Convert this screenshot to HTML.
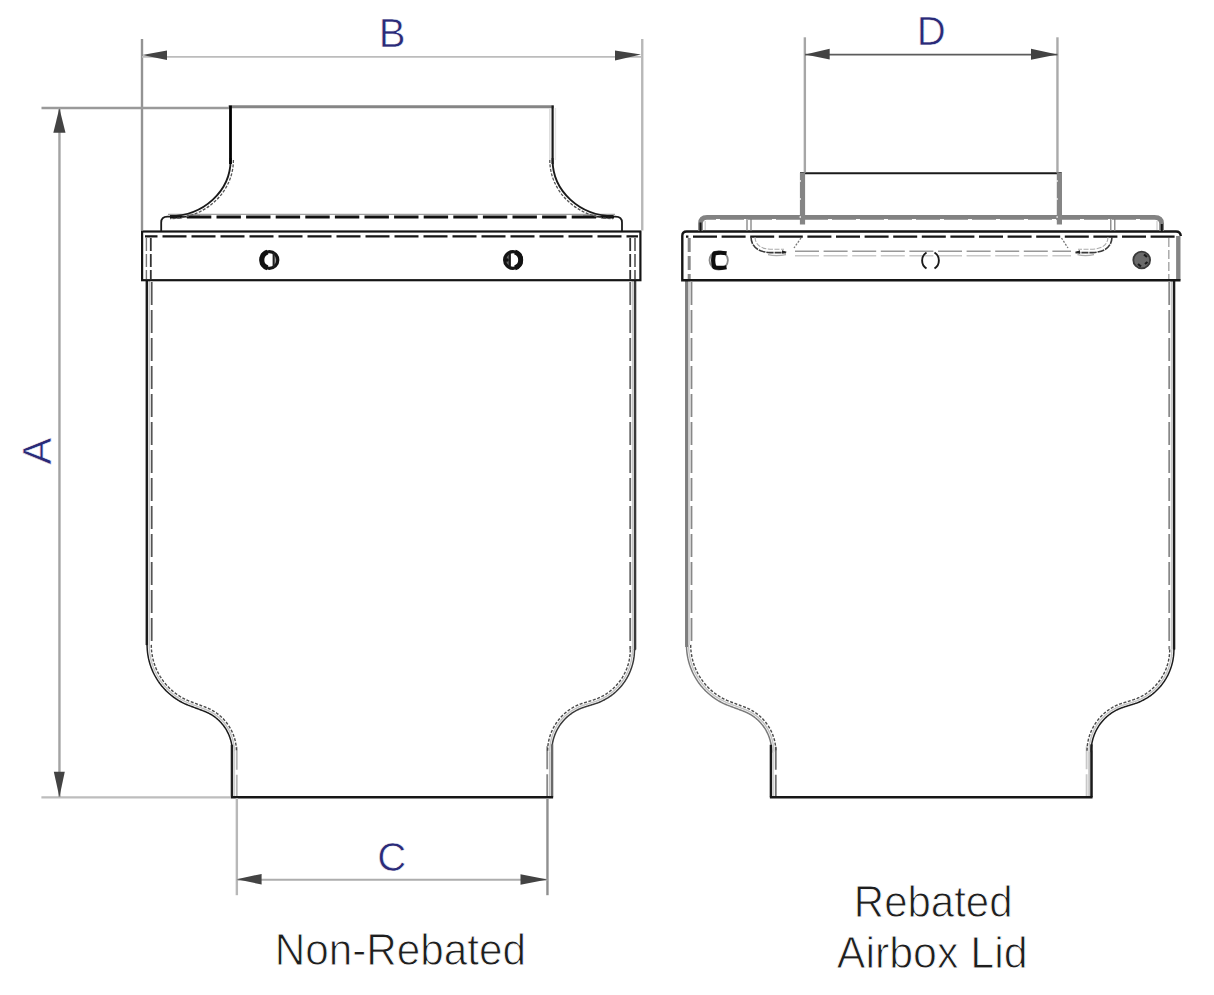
<!DOCTYPE html>
<html>
<head>
<meta charset="utf-8">
<style>
html,body{margin:0;padding:0;background:#fff;}
body{width:1214px;height:995px;overflow:hidden;}
svg{display:block;}
text{font-family:"Liberation Sans", sans-serif;}
</style>
</head>
<body>
<svg width="1214" height="995" viewBox="0 0 1214 995">
<rect x="0" y="0" width="1214" height="995" fill="#fff"/>
<!-- left drawing -->
<path d="M149.20,281 V644.90" stroke="#c8c8c8" stroke-width="1.6" fill="none"/>
<path d="M632.70,281 V649.60" stroke="#c8c8c8" stroke-width="1.6" fill="none"/>
<path d="M234.30,751.80 V796.25" stroke="#d0d0d0" stroke-width="1.6" fill="none"/>
<path d="M549.70,751.36 V796.25" stroke="#c0c0c0" stroke-width="1.6" fill="none"/>
<polyline points="149.20,644.90 149.21,646.00 149.24,647.10 149.29,648.20 149.35,649.30 149.44,650.40 149.55,651.50 149.67,652.59 149.82,653.68 149.98,654.77 150.16,655.86 150.37,656.94 150.59,658.02 150.83,659.09 151.09,660.16 151.36,661.23 151.66,662.29 151.97,663.34 152.31,664.39 152.66,665.44 153.03,666.48 153.42,667.51 153.82,668.53 154.25,669.55 154.69,670.55 155.15,671.56 155.63,672.55 156.12,673.53 156.63,674.51 157.16,675.47 157.71,676.43 158.27,677.38 158.85,678.31 159.44,679.24 160.05,680.16 160.68,681.06 161.32,681.96 161.98,682.84 162.66,683.71 163.35,684.57 164.05,685.41 164.77,686.25 165.50,687.07 166.25,687.88 167.01,688.67 167.79,689.45 168.58,690.22 169.38,690.98 170.20,691.72 171.03,692.44 171.87,693.15 172.72,693.85 173.59,694.53 174.46,695.19 175.35,695.84 176.25,696.48 177.17,697.09 178.09,697.70 179.02,698.28 179.96,698.85 180.92,699.40 181.88,699.94 182.85,700.46 183.83,700.96 184.82,701.44 185.82,701.91 186.82,702.36 187.84,702.79 188.86,703.21 189.88,703.60 190.67,703.90 191.46,704.19 192.25,704.49 193.04,704.79 193.83,705.08 194.62,705.38 195.41,705.67 196.20,705.97 196.99,706.27 197.78,706.56 198.57,706.86 199.36,707.15 200.15,707.45 200.94,707.75 201.73,708.04 202.52,708.34 203.31,708.63 204.10,708.93 204.89,709.23 205.76,709.56 206.63,709.92 207.48,710.29 208.33,710.68 209.17,711.09 210.01,711.51 210.83,711.95 211.64,712.41 212.45,712.89 213.24,713.38 214.03,713.89 214.80,714.41 215.56,714.95 216.31,715.50 217.05,716.07 217.78,716.66 218.50,717.26 219.20,717.87 219.89,718.50 220.57,719.15 221.23,719.80 221.88,720.47 222.52,721.16 223.14,721.85 223.75,722.56 224.34,723.28 224.92,724.02 225.49,724.76 226.03,725.52 226.57,726.29 227.08,727.07 227.58,727.85 228.07,728.65 228.53,729.46 228.98,730.28 229.42,731.11 229.83,731.94 230.23,732.79 230.62,733.64 230.98,734.50 231.33,735.37 231.65,736.24 231.97,737.12 232.26,738.01 232.53,738.90 232.79,739.80 233.03,740.71 233.24,741.61 233.44,742.53 233.62,743.44 233.79,744.36 233.93,745.29 234.05,746.21 234.16,747.14 234.25,748.07 234.31,749.00 234.36,749.94 234.39,750.87 234.40,751.80" stroke="#c4c4c4" stroke-width="1.4" fill="none"/>
<polyline points="632.40,649.60 632.39,650.61 632.36,651.62 632.32,652.62 632.25,653.63 632.17,654.64 632.07,655.64 631.95,656.64 631.81,657.64 631.65,658.64 631.48,659.63 631.28,660.62 631.07,661.61 630.84,662.59 630.59,663.57 630.33,664.54 630.04,665.51 629.74,666.47 629.42,667.43 629.09,668.38 628.73,669.32 628.36,670.26 627.97,671.19 627.57,672.12 627.14,673.03 626.70,673.94 626.25,674.84 625.78,675.73 625.29,676.62 624.78,677.49 624.26,678.35 623.72,679.21 623.17,680.05 622.60,680.89 622.02,681.71 621.42,682.52 620.81,683.32 620.18,684.11 619.54,684.89 618.89,685.66 618.22,686.41 617.53,687.15 616.83,687.88 616.12,688.60 615.40,689.30 614.66,689.99 613.92,690.67 613.15,691.33 612.38,691.98 611.60,692.61 610.80,693.23 609.99,693.83 609.17,694.42 608.34,695.00 607.50,695.55 606.65,696.10 605.79,696.63 604.92,697.14 604.04,697.63 603.16,698.11 602.26,698.57 601.36,699.02 600.44,699.45 599.52,699.86 598.59,700.26 597.66,700.64 596.72,701.00 595.77,701.34 594.81,701.67 593.85,701.98 593.32,702.14 592.79,702.31 592.25,702.48 591.72,702.64 591.19,702.81 590.65,702.97 590.12,703.14 589.59,703.31 589.05,703.47 588.52,703.64 587.99,703.81 587.45,703.97 586.92,704.14 586.39,704.30 585.85,704.47 585.32,704.64 584.79,704.80 584.25,704.97 583.72,705.13 582.73,705.45 581.75,705.80 580.77,706.16 579.80,706.54 578.84,706.95 577.89,707.37 576.95,707.82 576.02,708.28 575.10,708.77 574.19,709.27 573.29,709.80 572.40,710.34 571.52,710.90 570.66,711.48 569.81,712.08 568.97,712.70 568.15,713.34 567.33,713.99 566.54,714.66 565.76,715.35 564.99,716.05 564.24,716.77 563.50,717.51 562.78,718.26 562.08,719.03 561.39,719.81 560.72,720.61 560.07,721.42 559.43,722.25 558.82,723.09 558.22,723.94 557.64,724.80 557.07,725.68 556.53,726.57 556.01,727.47 555.50,728.38 555.02,729.30 554.55,730.23 554.11,731.17 553.69,732.12 553.28,733.08 552.90,734.05 552.54,735.03 552.20,736.01 551.88,737.00 551.58,738.00 551.30,739.01 551.05,740.02 550.82,741.03 550.60,742.05 550.41,743.07 550.25,744.10 550.10,745.13 549.98,746.17 549.88,747.20 549.80,748.24 549.74,749.28 549.71,750.32 549.70,751.36" stroke="#c4c4c4" stroke-width="1.4" fill="none"/>
<path d="M151.70,282 V644.90" stroke="#555" stroke-width="1.8" fill="none" stroke-dasharray="23 5"/>
<path d="M630.20,282 V649.60" stroke="#666" stroke-width="1.8" fill="none" stroke-dasharray="23 5"/>
<path d="M236.80,746.80 V796.25" stroke="#b5b5b5" stroke-width="1.8" fill="none" stroke-dasharray="23 5"/>
<path d="M547.20,746.36 V796.25" stroke="#888" stroke-width="1.8" fill="none" stroke-dasharray="23 5"/>
<polyline points="151.30,644.88 151.31,645.96 151.34,647.03 151.38,648.09 151.45,649.15 151.53,650.22 151.64,651.27 151.76,652.33 151.90,653.39 152.06,654.44 152.23,655.49 152.43,656.54 152.64,657.58 152.87,658.62 153.12,659.65 153.39,660.68 153.68,661.71 153.98,662.73 154.30,663.74 154.64,664.75 155.00,665.75 155.38,666.75 155.77,667.74 156.18,668.72 156.61,669.70 157.05,670.66 157.51,671.62 157.99,672.57 158.48,673.52 158.99,674.45 159.52,675.37 160.06,676.29 160.62,677.19 161.20,678.09 161.79,678.98 162.40,679.85 163.02,680.71 163.65,681.57 164.31,682.41 164.97,683.24 165.65,684.06 166.35,684.86 167.06,685.66 167.78,686.44 168.52,687.21 169.27,687.96 170.03,688.70 170.81,689.43 171.59,690.15 172.40,690.85 173.21,691.54 174.03,692.21 174.87,692.87 175.72,693.51 176.58,694.14 177.45,694.75 178.33,695.35 179.22,695.93 180.12,696.49 181.03,697.04 181.95,697.58 182.88,698.10 183.82,698.60 184.77,699.08 185.73,699.55 186.69,700.00 187.66,700.44 188.64,700.85 189.63,701.25 190.63,701.64 191.41,701.93 192.20,702.23 192.99,702.52 193.78,702.82 194.57,703.11 195.36,703.41 196.15,703.71 196.94,704.00 197.73,704.30 198.52,704.60 199.31,704.89 200.10,705.19 200.89,705.48 201.68,705.78 202.47,706.08 203.26,706.37 204.05,706.67 204.84,706.96 205.64,707.26 206.54,707.61 207.44,707.98 208.34,708.37 209.23,708.78 210.11,709.21 210.98,709.65 211.84,710.11 212.69,710.59 213.53,711.09 214.36,711.60 215.18,712.13 215.99,712.68 216.79,713.25 217.58,713.83 218.35,714.42 219.11,715.04 219.86,715.66 220.60,716.31 221.32,716.96 222.03,717.64 222.72,718.32 223.41,719.03 224.07,719.74 224.72,720.47 225.36,721.21 225.98,721.97 226.58,722.73 227.17,723.51 227.75,724.31 228.30,725.11 228.84,725.92 229.37,726.75 229.87,727.58 230.36,728.43 230.83,729.29 231.29,730.15 231.72,731.03 232.14,731.91 232.54,732.80 232.92,733.70 233.28,734.61 233.63,735.52 233.95,736.45 234.26,737.37 234.55,738.31 234.81,739.25 235.06,740.19 235.29,741.14 235.50,742.10 235.69,743.06 235.86,744.02 236.01,744.99 236.14,745.95 236.25,746.93 236.34,747.90 236.41,748.87 236.46,749.85 236.49,750.83 236.50,751.78" stroke="#4a4a4a" stroke-width="1.4" fill="none" stroke-dasharray="3 1.6"/>
<polyline points="630.30,649.58 630.29,650.57 630.26,651.54 630.22,652.51 630.16,653.48 630.08,654.44 629.98,655.41 629.86,656.37 629.73,657.33 629.58,658.29 629.41,659.25 629.22,660.20 629.02,661.15 628.80,662.09 628.56,663.03 628.31,663.97 628.03,664.90 627.74,665.83 627.44,666.75 627.11,667.66 626.77,668.57 626.41,669.47 626.04,670.37 625.65,671.26 625.24,672.14 624.82,673.01 624.38,673.88 623.93,674.73 623.46,675.58 622.97,676.42 622.47,677.25 621.96,678.07 621.43,678.89 620.88,679.69 620.32,680.48 619.74,681.26 619.15,682.03 618.55,682.79 617.93,683.54 617.30,684.28 616.66,685.00 616.00,685.72 615.33,686.42 614.65,687.11 613.95,687.78 613.24,688.44 612.52,689.09 611.79,689.73 611.05,690.35 610.29,690.96 609.53,691.56 608.75,692.14 607.96,692.71 607.16,693.26 606.36,693.80 605.54,694.32 604.71,694.83 603.87,695.32 603.03,695.79 602.18,696.25 601.31,696.70 600.44,697.13 599.57,697.54 598.68,697.94 597.79,698.32 596.89,698.68 595.98,699.03 595.07,699.36 594.15,699.68 593.22,699.98 592.70,700.14 592.16,700.31 591.63,700.47 591.10,700.64 590.56,700.80 590.03,700.97 589.50,701.14 588.96,701.30 588.43,701.47 587.90,701.63 587.36,701.80 586.83,701.97 586.30,702.13 585.76,702.30 585.23,702.46 584.70,702.63 584.16,702.80 583.63,702.96 583.08,703.13 582.06,703.46 581.04,703.82 580.02,704.20 579.01,704.60 578.01,705.02 577.01,705.46 576.03,705.93 575.06,706.41 574.10,706.92 573.15,707.45 572.21,707.99 571.28,708.56 570.37,709.15 569.47,709.75 568.58,710.38 567.71,711.02 566.85,711.69 566.00,712.37 565.17,713.07 564.35,713.79 563.55,714.52 562.77,715.27 562.00,716.04 561.25,716.83 560.51,717.63 559.80,718.44 559.10,719.28 558.42,720.12 557.75,720.98 557.11,721.86 556.49,722.75 555.88,723.65 555.29,724.56 554.73,725.49 554.18,726.43 553.66,727.38 553.15,728.34 552.67,729.32 552.20,730.30 551.76,731.29 551.34,732.29 550.94,733.30 550.56,734.32 550.21,735.35 549.87,736.38 549.56,737.42 549.27,738.47 549.01,739.52 548.76,740.58 548.54,741.65 548.35,742.71 548.17,743.79 548.02,744.86 547.89,745.94 547.79,747.02 547.71,748.11 547.65,749.19 547.61,750.28 547.60,751.34" stroke="#4a4a4a" stroke-width="1.4" fill="none" stroke-dasharray="3 1.6"/>
<polyline points="146.8,280 146.8,644.90 147.10,644.92 147.11,646.04 147.14,647.18 147.19,648.31 147.26,649.45 147.35,650.58 147.46,651.72 147.59,652.85 147.74,653.98 147.91,655.10 148.10,656.22 148.31,657.34 148.53,658.46 148.78,659.57 149.05,660.67 149.34,661.78 149.64,662.87 149.97,663.96 150.31,665.05 150.68,666.13 151.06,667.20 151.46,668.26 151.88,669.32 152.32,670.37 152.77,671.41 153.25,672.45 153.74,673.47 154.25,674.49 154.78,675.50 155.33,676.50 155.89,677.49 156.47,678.47 157.07,679.43 157.69,680.39 158.32,681.34 158.97,682.27 159.63,683.20 160.31,684.11 161.01,685.01 161.72,685.90 162.45,686.77 163.19,687.63 163.95,688.48 164.72,689.32 165.51,690.14 166.31,690.95 167.13,691.74 167.96,692.52 168.80,693.28 169.66,694.03 170.53,694.77 171.41,695.49 172.30,696.19 173.21,696.88 174.13,697.55 175.06,698.20 176.00,698.84 176.96,699.47 177.92,700.07 178.89,700.66 179.88,701.23 180.87,701.78 181.88,702.32 182.89,702.84 183.91,703.34 184.94,703.82 185.98,704.28 187.03,704.73 188.08,705.16 189.14,705.56 189.94,705.86 190.73,706.16 191.52,706.46 192.31,706.75 193.10,707.05 193.89,707.34 194.68,707.64 195.47,707.94 196.26,708.23 197.05,708.53 197.84,708.82 198.63,709.12 199.41,709.42 200.20,709.71 200.99,710.01 201.78,710.30 202.57,710.60 203.36,710.90 204.14,711.19 204.98,711.51 205.81,711.85 206.63,712.21 207.44,712.58 208.24,712.97 209.03,713.37 209.82,713.79 210.59,714.23 211.36,714.68 212.12,715.15 212.87,715.64 213.60,716.14 214.33,716.65 215.05,717.18 215.75,717.72 216.45,718.28 217.13,718.85 217.80,719.44 218.46,720.04 219.11,720.65 219.74,721.28 220.36,721.92 220.97,722.57 221.56,723.24 222.14,723.91 222.71,724.60 223.26,725.30 223.80,726.01 224.32,726.73 224.83,727.47 225.32,728.21 225.80,728.96 226.26,729.72 226.70,730.49 227.13,731.27 227.55,732.06 227.94,732.86 228.33,733.67 228.69,734.48 229.04,735.30 229.37,736.13 229.68,736.96 229.98,737.80 230.26,738.65 230.52,739.50 230.76,740.36 230.99,741.22 231.20,742.09 231.39,742.96 231.56,743.83 231.72,744.71 231.85,745.59 231.97,746.47 232.07,747.36 232.15,748.24 232.22,749.13 232.26,750.02 232.29,750.91 232.30,751.82 231.9,751.80 231.9,797.25" stroke="#1c1c1c" stroke-width="1.5" fill="none"/>
<path d="M146.8,280 V644.90" stroke="#1c1c1c" stroke-width="2.4" fill="none"/>
<path d="M231.9,744.80 V797.25" stroke="#222" stroke-width="2.4" fill="none"/>
<polyline points="635.1,280 635.1,649.60 634.50,649.62 634.49,650.65 634.46,651.69 634.41,652.74 634.35,653.79 634.26,654.83 634.15,655.87 634.03,656.91 633.88,657.95 633.72,658.98 633.54,660.02 633.34,661.04 633.12,662.07 632.88,663.09 632.62,664.10 632.35,665.11 632.05,666.12 631.74,667.12 631.41,668.11 631.06,669.10 630.69,670.08 630.31,671.05 629.90,672.02 629.48,672.98 629.04,673.93 628.59,674.87 628.11,675.81 627.62,676.73 627.11,677.65 626.59,678.56 626.05,679.45 625.49,680.34 624.92,681.22 624.33,682.08 623.72,682.94 623.10,683.78 622.47,684.61 621.82,685.43 621.15,686.24 620.47,687.04 619.77,687.82 619.06,688.59 618.34,689.35 617.60,690.09 616.85,690.82 616.09,691.54 615.31,692.24 614.52,692.93 613.71,693.60 612.90,694.26 612.07,694.90 611.23,695.53 610.38,696.14 609.52,696.73 608.65,697.31 607.77,697.88 606.87,698.43 605.97,698.96 605.06,699.47 604.14,699.97 603.21,700.45 602.27,700.91 601.32,701.36 600.36,701.79 599.40,702.20 598.43,702.59 597.45,702.97 596.47,703.32 595.48,703.66 594.49,703.98 593.95,704.15 593.41,704.32 592.88,704.48 592.35,704.65 591.81,704.81 591.28,704.98 590.75,705.15 590.21,705.31 589.68,705.48 589.15,705.64 588.61,705.81 588.08,705.98 587.55,706.14 587.01,706.31 586.48,706.47 585.95,706.64 585.41,706.81 584.88,706.97 584.36,707.13 583.40,707.45 582.46,707.77 581.52,708.12 580.60,708.49 579.68,708.87 578.77,709.28 577.87,709.71 576.98,710.15 576.10,710.61 575.23,711.10 574.36,711.60 573.51,712.12 572.68,712.66 571.85,713.21 571.04,713.79 570.23,714.38 569.45,714.99 568.67,715.61 567.91,716.25 567.16,716.91 566.43,717.58 565.71,718.27 565.00,718.98 564.31,719.70 563.64,720.43 562.98,721.18 562.34,721.94 561.72,722.72 561.11,723.51 560.52,724.31 559.95,725.13 559.39,725.95 558.85,726.79 558.34,727.64 557.83,728.50 557.35,729.38 556.89,730.26 556.44,731.15 556.02,732.05 555.61,732.96 555.23,733.88 554.86,734.80 554.52,735.74 554.19,736.68 553.88,737.63 553.60,738.58 553.33,739.54 553.09,740.51 552.87,741.48 552.66,742.45 552.48,743.43 552.32,744.42 552.19,745.40 552.07,746.39 551.97,747.38 551.90,748.38 551.84,749.37 551.81,750.37 551.80,751.39 552.1,751.36 552.1,797.25" stroke="#3a3a3a" stroke-width="1.5" fill="none"/>
<path d="M635.1,280 V649.60" stroke="#3a3a3a" stroke-width="2.4" fill="none"/>
<path d="M552.1,744.36 V797.25" stroke="#6a6a6a" stroke-width="2.4" fill="none"/>
<path d="M230.9,797.25 H553.1" stroke="#171717" stroke-width="2.4" fill="none"/>
<rect x="142.1" y="231.5" width="498.3" height="48.7" stroke="#151515" stroke-width="2.2" fill="none"/>
<line x1="145" y1="236.4" x2="638" y2="236.4" stroke="#151515" stroke-width="2.2" stroke-dasharray="24 5" stroke-dashoffset="-17.5"/>
<line x1="150.8" y1="238" x2="150.8" y2="279" stroke="#333" stroke-width="1.8" stroke-dasharray="13 3"/>
<line x1="146.4" y1="238" x2="146.4" y2="279" stroke="#777" stroke-width="1.4" stroke-dasharray="13 3"/>
<line x1="630.2" y1="238" x2="630.2" y2="279" stroke="#333" stroke-width="1.8" stroke-dasharray="13 3"/>
<line x1="635.0" y1="238" x2="635.0" y2="279" stroke="#555" stroke-width="1.6" stroke-dasharray="13 3"/>
<path d="M161.2,231 V222.5 Q161.2,216.6 167.5,216.6 H200 M583,216.6 H615.5 Q622,216.6 622,222.5 V231" stroke="#1a1a1a" stroke-width="1.8" fill="none"/>
<line x1="168" y1="214.4" x2="615" y2="214.4" stroke="#a0a0a0" stroke-width="1.4"/>
<line x1="170" y1="217.0" x2="614" y2="217.0" stroke="#111" stroke-width="3" stroke-dasharray="24.4 5.2" stroke-dashoffset="12.7"/>
<line x1="228.5" y1="106.8" x2="553.8" y2="106.8" stroke="#858585" stroke-width="3"/>
<path d="M233.4,160 A63.4,58.4 0 0 1 170,218.6" stroke="#555" stroke-width="1.3" fill="none" stroke-dasharray="3 1.5"/>
<path d="M230.6,158 V160 A60.6,56 0 0 1 170,216" stroke="#1a1a1a" stroke-width="1.9" fill="none"/>
<line x1="230.5" y1="105.5" x2="230.5" y2="164" stroke="#000" stroke-width="2.8"/>
<path d="M549.8,160 A63.4,58.4 0 0 0 613.2,218.6" stroke="#555" stroke-width="1.3" fill="none" stroke-dasharray="3 1.5"/>
<path d="M552.6,158 V160 A60.6,56 0 0 0 613.2,216" stroke="#1a1a1a" stroke-width="1.9" fill="none"/>
<line x1="552.6" y1="105.5" x2="552.6" y2="164" stroke="#1a1a1a" stroke-width="2.2"/>
<line x1="549.8" y1="108" x2="549.8" y2="160" stroke="#ddd" stroke-width="1.5"/>
<line x1="555.4" y1="108" x2="555.4" y2="160" stroke="#e4e4e4" stroke-width="1.5"/>
<path d="M273.5,252.3 A8.5,8.5 0 0 1 273.5,267.7 Z" fill="#999"/>
<circle cx="269.4" cy="260" r="8.4" stroke="#151515" stroke-width="3.2" fill="none"/>
<path d="M267.5,252.2 A8.2,8.2 0 0 0 267.5,267.8" stroke="#111" stroke-width="5" fill="none"/>
<line x1="273.6" y1="252.5" x2="273.6" y2="267.5" stroke="#222" stroke-width="2"/>
<path d="M509.6,252.1 A8.6,8.6 0 0 0 509.6,267.9 Z" fill="#666"/>
<circle cx="513" cy="260" r="8.4" stroke="#151515" stroke-width="3.2" fill="none"/>
<path d="M515,252.2 A8.2,8.2 0 0 1 515,267.8" stroke="#111" stroke-width="5" fill="none"/>
<line x1="509.8" y1="252.5" x2="509.8" y2="267.5" stroke="#1a1a1a" stroke-width="2.2"/>
<circle cx="507" cy="260" r="1.8" fill="#111"/>
<!-- right drawing -->
<path d="M689.00,281 V644.90" stroke="#c8c8c8" stroke-width="1.6" fill="none"/>
<path d="M1171.70,281 V649.60" stroke="#c8c8c8" stroke-width="1.6" fill="none"/>
<path d="M773.30,751.80 V796.25" stroke="#d0d0d0" stroke-width="1.6" fill="none"/>
<path d="M1089.10,751.36 V796.25" stroke="#c0c0c0" stroke-width="1.6" fill="none"/>
<polyline points="688.60,644.90 688.61,646.00 688.64,647.10 688.69,648.20 688.75,649.30 688.84,650.40 688.95,651.50 689.07,652.59 689.22,653.68 689.38,654.77 689.56,655.86 689.77,656.94 689.99,658.02 690.23,659.09 690.49,660.16 690.76,661.23 691.06,662.29 691.37,663.34 691.71,664.39 692.06,665.44 692.43,666.48 692.82,667.51 693.22,668.53 693.65,669.55 694.09,670.55 694.55,671.56 695.03,672.55 695.52,673.53 696.03,674.51 696.56,675.47 697.11,676.43 697.67,677.38 698.25,678.31 698.84,679.24 699.45,680.16 700.08,681.06 700.72,681.96 701.38,682.84 702.06,683.71 702.75,684.57 703.45,685.41 704.17,686.25 704.90,687.07 705.65,687.88 706.41,688.67 707.19,689.45 707.98,690.22 708.78,690.98 709.60,691.72 710.43,692.44 711.27,693.15 712.12,693.85 712.99,694.53 713.86,695.19 714.75,695.84 715.65,696.48 716.57,697.09 717.49,697.70 718.42,698.28 719.36,698.85 720.32,699.40 721.28,699.94 722.25,700.46 723.23,700.96 724.22,701.44 725.22,701.91 726.22,702.36 727.24,702.79 728.26,703.21 729.28,703.60 730.07,703.90 730.86,704.19 731.65,704.49 732.44,704.79 733.23,705.08 734.02,705.38 734.81,705.67 735.60,705.97 736.39,706.27 737.18,706.56 737.97,706.86 738.76,707.15 739.55,707.45 740.34,707.75 741.13,708.04 741.92,708.34 742.71,708.63 743.50,708.93 744.29,709.23 745.16,709.56 746.03,709.92 746.88,710.29 747.73,710.68 748.57,711.09 749.41,711.51 750.23,711.95 751.04,712.41 751.85,712.89 752.64,713.38 753.43,713.89 754.20,714.41 754.96,714.95 755.71,715.50 756.45,716.07 757.18,716.66 757.90,717.26 758.60,717.87 759.29,718.50 759.97,719.15 760.63,719.80 761.28,720.47 761.92,721.16 762.54,721.85 763.15,722.56 763.74,723.28 764.32,724.02 764.89,724.76 765.43,725.52 765.97,726.29 766.48,727.07 766.98,727.85 767.47,728.65 767.93,729.46 768.38,730.28 768.82,731.11 769.23,731.94 769.63,732.79 770.02,733.64 770.38,734.50 770.73,735.37 771.05,736.24 771.37,737.12 771.66,738.01 771.93,738.90 772.19,739.80 772.43,740.71 772.64,741.61 772.84,742.53 773.02,743.44 773.19,744.36 773.33,745.29 773.45,746.21 773.56,747.14 773.65,748.07 773.71,749.00 773.76,749.94 773.79,750.87 773.80,751.80" stroke="#c4c4c4" stroke-width="1.4" fill="none"/>
<polyline points="1171.80,649.60 1171.79,650.61 1171.76,651.62 1171.72,652.62 1171.65,653.63 1171.57,654.64 1171.47,655.64 1171.35,656.64 1171.21,657.64 1171.05,658.64 1170.88,659.63 1170.68,660.62 1170.47,661.61 1170.24,662.59 1169.99,663.57 1169.73,664.54 1169.44,665.51 1169.14,666.47 1168.82,667.43 1168.49,668.38 1168.13,669.32 1167.76,670.26 1167.37,671.19 1166.97,672.12 1166.54,673.03 1166.10,673.94 1165.65,674.84 1165.18,675.73 1164.69,676.62 1164.18,677.49 1163.66,678.35 1163.12,679.21 1162.57,680.05 1162.00,680.89 1161.42,681.71 1160.82,682.52 1160.21,683.32 1159.58,684.11 1158.94,684.89 1158.29,685.66 1157.62,686.41 1156.93,687.15 1156.23,687.88 1155.52,688.60 1154.80,689.30 1154.06,689.99 1153.32,690.67 1152.55,691.33 1151.78,691.98 1151.00,692.61 1150.20,693.23 1149.39,693.83 1148.57,694.42 1147.74,695.00 1146.90,695.55 1146.05,696.10 1145.19,696.63 1144.32,697.14 1143.44,697.63 1142.56,698.11 1141.66,698.57 1140.76,699.02 1139.84,699.45 1138.92,699.86 1137.99,700.26 1137.06,700.64 1136.12,701.00 1135.17,701.34 1134.21,701.67 1133.25,701.98 1132.72,702.14 1132.19,702.31 1131.65,702.48 1131.12,702.64 1130.59,702.81 1130.05,702.97 1129.52,703.14 1128.99,703.31 1128.45,703.47 1127.92,703.64 1127.39,703.81 1126.85,703.97 1126.32,704.14 1125.79,704.30 1125.25,704.47 1124.72,704.64 1124.19,704.80 1123.65,704.97 1123.12,705.13 1122.13,705.45 1121.15,705.80 1120.17,706.16 1119.20,706.54 1118.24,706.95 1117.29,707.37 1116.35,707.82 1115.42,708.28 1114.50,708.77 1113.59,709.27 1112.69,709.80 1111.80,710.34 1110.92,710.90 1110.06,711.48 1109.21,712.08 1108.37,712.70 1107.55,713.34 1106.73,713.99 1105.94,714.66 1105.16,715.35 1104.39,716.05 1103.64,716.77 1102.90,717.51 1102.18,718.26 1101.48,719.03 1100.79,719.81 1100.12,720.61 1099.47,721.42 1098.83,722.25 1098.22,723.09 1097.62,723.94 1097.04,724.80 1096.47,725.68 1095.93,726.57 1095.41,727.47 1094.90,728.38 1094.42,729.30 1093.95,730.23 1093.51,731.17 1093.09,732.12 1092.68,733.08 1092.30,734.05 1091.94,735.03 1091.60,736.01 1091.28,737.00 1090.98,738.00 1090.70,739.01 1090.45,740.02 1090.22,741.03 1090.00,742.05 1089.81,743.07 1089.65,744.10 1089.50,745.13 1089.38,746.17 1089.28,747.20 1089.20,748.24 1089.14,749.28 1089.11,750.32 1089.10,751.36" stroke="#c4c4c4" stroke-width="1.4" fill="none"/>
<path d="M691.50,282 V644.90" stroke="#888" stroke-width="1.8" fill="none" stroke-dasharray="23 5"/>
<path d="M1169.20,282 V649.60" stroke="#888" stroke-width="1.8" fill="none" stroke-dasharray="23 5"/>
<path d="M775.80,746.80 V796.25" stroke="#6f6f6f" stroke-width="1.8" fill="none" stroke-dasharray="23 5"/>
<path d="M1086.60,746.36 V796.25" stroke="#c8c8c8" stroke-width="1.8" fill="none" stroke-dasharray="23 5"/>
<polyline points="690.70,644.88 690.71,645.96 690.74,647.03 690.78,648.09 690.85,649.15 690.93,650.22 691.04,651.27 691.16,652.33 691.30,653.39 691.46,654.44 691.63,655.49 691.83,656.54 692.04,657.58 692.27,658.62 692.52,659.65 692.79,660.68 693.08,661.71 693.38,662.73 693.70,663.74 694.04,664.75 694.40,665.75 694.78,666.75 695.17,667.74 695.58,668.72 696.01,669.70 696.45,670.66 696.91,671.62 697.39,672.57 697.88,673.52 698.39,674.45 698.92,675.37 699.46,676.29 700.02,677.19 700.60,678.09 701.19,678.98 701.80,679.85 702.42,680.71 703.05,681.57 703.71,682.41 704.37,683.24 705.05,684.06 705.75,684.86 706.46,685.66 707.18,686.44 707.92,687.21 708.67,687.96 709.43,688.70 710.21,689.43 710.99,690.15 711.80,690.85 712.61,691.54 713.43,692.21 714.27,692.87 715.12,693.51 715.98,694.14 716.85,694.75 717.73,695.35 718.62,695.93 719.52,696.49 720.43,697.04 721.35,697.58 722.28,698.10 723.22,698.60 724.17,699.08 725.13,699.55 726.09,700.00 727.06,700.44 728.04,700.85 729.03,701.25 730.03,701.64 730.81,701.93 731.60,702.23 732.39,702.52 733.18,702.82 733.97,703.11 734.76,703.41 735.55,703.71 736.34,704.00 737.13,704.30 737.92,704.60 738.71,704.89 739.50,705.19 740.29,705.48 741.08,705.78 741.87,706.08 742.66,706.37 743.45,706.67 744.24,706.96 745.04,707.26 745.94,707.61 746.84,707.98 747.74,708.37 748.63,708.78 749.51,709.21 750.38,709.65 751.24,710.11 752.09,710.59 752.93,711.09 753.76,711.60 754.58,712.13 755.39,712.68 756.19,713.25 756.98,713.83 757.75,714.42 758.51,715.04 759.26,715.66 760.00,716.31 760.72,716.96 761.43,717.64 762.12,718.32 762.81,719.03 763.47,719.74 764.12,720.47 764.76,721.21 765.38,721.97 765.98,722.73 766.57,723.51 767.15,724.31 767.70,725.11 768.24,725.92 768.77,726.75 769.27,727.58 769.76,728.43 770.23,729.29 770.69,730.15 771.12,731.03 771.54,731.91 771.94,732.80 772.32,733.70 772.68,734.61 773.03,735.52 773.35,736.45 773.66,737.37 773.95,738.31 774.21,739.25 774.46,740.19 774.69,741.14 774.90,742.10 775.09,743.06 775.26,744.02 775.41,744.99 775.54,745.95 775.65,746.93 775.74,747.90 775.81,748.87 775.86,749.85 775.89,750.83 775.90,751.78" stroke="#4a4a4a" stroke-width="1.4" fill="none" stroke-dasharray="3 1.6"/>
<polyline points="1169.70,649.58 1169.69,650.57 1169.66,651.54 1169.62,652.51 1169.56,653.48 1169.48,654.44 1169.38,655.41 1169.26,656.37 1169.13,657.33 1168.98,658.29 1168.81,659.25 1168.62,660.20 1168.42,661.15 1168.20,662.09 1167.96,663.03 1167.71,663.97 1167.43,664.90 1167.14,665.83 1166.84,666.75 1166.51,667.66 1166.17,668.57 1165.81,669.47 1165.44,670.37 1165.05,671.26 1164.64,672.14 1164.22,673.01 1163.78,673.88 1163.33,674.73 1162.86,675.58 1162.37,676.42 1161.87,677.25 1161.36,678.07 1160.83,678.89 1160.28,679.69 1159.72,680.48 1159.14,681.26 1158.55,682.03 1157.95,682.79 1157.33,683.54 1156.70,684.28 1156.06,685.00 1155.40,685.72 1154.73,686.42 1154.05,687.11 1153.35,687.78 1152.64,688.44 1151.92,689.09 1151.19,689.73 1150.45,690.35 1149.69,690.96 1148.93,691.56 1148.15,692.14 1147.36,692.71 1146.56,693.26 1145.76,693.80 1144.94,694.32 1144.11,694.83 1143.27,695.32 1142.43,695.79 1141.58,696.25 1140.71,696.70 1139.84,697.13 1138.97,697.54 1138.08,697.94 1137.19,698.32 1136.29,698.68 1135.38,699.03 1134.47,699.36 1133.55,699.68 1132.62,699.98 1132.10,700.14 1131.56,700.31 1131.03,700.47 1130.50,700.64 1129.96,700.80 1129.43,700.97 1128.90,701.14 1128.36,701.30 1127.83,701.47 1127.30,701.63 1126.76,701.80 1126.23,701.97 1125.70,702.13 1125.16,702.30 1124.63,702.46 1124.10,702.63 1123.56,702.80 1123.03,702.96 1122.48,703.13 1121.46,703.46 1120.44,703.82 1119.42,704.20 1118.41,704.60 1117.41,705.02 1116.41,705.46 1115.43,705.93 1114.46,706.41 1113.50,706.92 1112.55,707.45 1111.61,707.99 1110.68,708.56 1109.77,709.15 1108.87,709.75 1107.98,710.38 1107.11,711.02 1106.25,711.69 1105.40,712.37 1104.57,713.07 1103.75,713.79 1102.95,714.52 1102.17,715.27 1101.40,716.04 1100.65,716.83 1099.91,717.63 1099.20,718.44 1098.50,719.28 1097.82,720.12 1097.15,720.98 1096.51,721.86 1095.89,722.75 1095.28,723.65 1094.69,724.56 1094.13,725.49 1093.58,726.43 1093.06,727.38 1092.55,728.34 1092.07,729.32 1091.60,730.30 1091.16,731.29 1090.74,732.29 1090.34,733.30 1089.96,734.32 1089.61,735.35 1089.27,736.38 1088.96,737.42 1088.67,738.47 1088.41,739.52 1088.16,740.58 1087.94,741.65 1087.75,742.71 1087.57,743.79 1087.42,744.86 1087.29,745.94 1087.19,747.02 1087.11,748.11 1087.05,749.19 1087.01,750.28 1087.00,751.34" stroke="#4a4a4a" stroke-width="1.4" fill="none" stroke-dasharray="3 1.6"/>
<polyline points="686.6,280 686.6,644.90 686.50,644.92 686.51,646.04 686.54,647.18 686.59,648.31 686.66,649.45 686.75,650.58 686.86,651.72 686.99,652.85 687.14,653.98 687.31,655.10 687.50,656.22 687.71,657.34 687.93,658.46 688.18,659.57 688.45,660.67 688.74,661.78 689.04,662.87 689.37,663.96 689.71,665.05 690.08,666.13 690.46,667.20 690.86,668.26 691.28,669.32 691.72,670.37 692.17,671.41 692.65,672.45 693.14,673.47 693.65,674.49 694.18,675.50 694.73,676.50 695.29,677.49 695.87,678.47 696.47,679.43 697.09,680.39 697.72,681.34 698.37,682.27 699.03,683.20 699.71,684.11 700.41,685.01 701.12,685.90 701.85,686.77 702.59,687.63 703.35,688.48 704.12,689.32 704.91,690.14 705.71,690.95 706.53,691.74 707.36,692.52 708.20,693.28 709.06,694.03 709.93,694.77 710.81,695.49 711.70,696.19 712.61,696.88 713.53,697.55 714.46,698.20 715.40,698.84 716.36,699.47 717.32,700.07 718.29,700.66 719.28,701.23 720.27,701.78 721.28,702.32 722.29,702.84 723.31,703.34 724.34,703.82 725.38,704.28 726.43,704.73 727.48,705.16 728.54,705.56 729.34,705.86 730.13,706.16 730.92,706.46 731.71,706.75 732.50,707.05 733.29,707.34 734.08,707.64 734.87,707.94 735.66,708.23 736.45,708.53 737.24,708.82 738.03,709.12 738.81,709.42 739.60,709.71 740.39,710.01 741.18,710.30 741.97,710.60 742.76,710.90 743.54,711.19 744.38,711.51 745.21,711.85 746.03,712.21 746.84,712.58 747.64,712.97 748.43,713.37 749.22,713.79 749.99,714.23 750.76,714.68 751.52,715.15 752.27,715.64 753.00,716.14 753.73,716.65 754.45,717.18 755.15,717.72 755.85,718.28 756.53,718.85 757.20,719.44 757.86,720.04 758.51,720.65 759.14,721.28 759.76,721.92 760.37,722.57 760.96,723.24 761.54,723.91 762.11,724.60 762.66,725.30 763.20,726.01 763.72,726.73 764.23,727.47 764.72,728.21 765.20,728.96 765.66,729.72 766.10,730.49 766.53,731.27 766.95,732.06 767.34,732.86 767.73,733.67 768.09,734.48 768.44,735.30 768.77,736.13 769.08,736.96 769.38,737.80 769.66,738.65 769.92,739.50 770.16,740.36 770.39,741.22 770.60,742.09 770.79,742.96 770.96,743.83 771.12,744.71 771.25,745.59 771.37,746.47 771.47,747.36 771.55,748.24 771.62,749.13 771.66,750.02 771.69,750.91 771.70,751.82 770.9,751.80 770.9,797.25" stroke="#7a7a7a" stroke-width="1.5" fill="none"/>
<path d="M686.6,280 V644.90" stroke="#7a7a7a" stroke-width="2.4" fill="none"/>
<path d="M770.9,744.80 V797.25" stroke="#1a1a1a" stroke-width="2.4" fill="none"/>
<polyline points="1174.1,280 1174.1,649.60 1173.90,649.62 1173.89,650.65 1173.86,651.69 1173.81,652.74 1173.75,653.79 1173.66,654.83 1173.55,655.87 1173.43,656.91 1173.28,657.95 1173.12,658.98 1172.94,660.02 1172.74,661.04 1172.52,662.07 1172.28,663.09 1172.02,664.10 1171.75,665.11 1171.45,666.12 1171.14,667.12 1170.81,668.11 1170.46,669.10 1170.09,670.08 1169.71,671.05 1169.30,672.02 1168.88,672.98 1168.44,673.93 1167.99,674.87 1167.51,675.81 1167.02,676.73 1166.51,677.65 1165.99,678.56 1165.45,679.45 1164.89,680.34 1164.32,681.22 1163.73,682.08 1163.12,682.94 1162.50,683.78 1161.87,684.61 1161.22,685.43 1160.55,686.24 1159.87,687.04 1159.17,687.82 1158.46,688.59 1157.74,689.35 1157.00,690.09 1156.25,690.82 1155.49,691.54 1154.71,692.24 1153.92,692.93 1153.11,693.60 1152.30,694.26 1151.47,694.90 1150.63,695.53 1149.78,696.14 1148.92,696.73 1148.05,697.31 1147.17,697.88 1146.27,698.43 1145.37,698.96 1144.46,699.47 1143.54,699.97 1142.61,700.45 1141.67,700.91 1140.72,701.36 1139.76,701.79 1138.80,702.20 1137.83,702.59 1136.85,702.97 1135.87,703.32 1134.88,703.66 1133.89,703.98 1133.35,704.15 1132.81,704.32 1132.28,704.48 1131.75,704.65 1131.21,704.81 1130.68,704.98 1130.15,705.15 1129.61,705.31 1129.08,705.48 1128.55,705.64 1128.01,705.81 1127.48,705.98 1126.95,706.14 1126.41,706.31 1125.88,706.47 1125.35,706.64 1124.81,706.81 1124.28,706.97 1123.76,707.13 1122.80,707.45 1121.86,707.77 1120.92,708.12 1120.00,708.49 1119.08,708.87 1118.17,709.28 1117.27,709.71 1116.38,710.15 1115.50,710.61 1114.63,711.10 1113.76,711.60 1112.91,712.12 1112.08,712.66 1111.25,713.21 1110.44,713.79 1109.63,714.38 1108.85,714.99 1108.07,715.61 1107.31,716.25 1106.56,716.91 1105.83,717.58 1105.11,718.27 1104.40,718.98 1103.71,719.70 1103.04,720.43 1102.38,721.18 1101.74,721.94 1101.12,722.72 1100.51,723.51 1099.92,724.31 1099.35,725.13 1098.79,725.95 1098.25,726.79 1097.74,727.64 1097.23,728.50 1096.75,729.38 1096.29,730.26 1095.84,731.15 1095.42,732.05 1095.01,732.96 1094.63,733.88 1094.26,734.80 1093.92,735.74 1093.59,736.68 1093.28,737.63 1093.00,738.58 1092.73,739.54 1092.49,740.51 1092.27,741.48 1092.06,742.45 1091.88,743.43 1091.72,744.42 1091.59,745.40 1091.47,746.39 1091.37,747.38 1091.30,748.38 1091.24,749.37 1091.21,750.37 1091.20,751.39 1091.5,751.36 1091.5,797.25" stroke="#1c1c1c" stroke-width="1.5" fill="none"/>
<path d="M1174.1,280 V649.60" stroke="#1c1c1c" stroke-width="2.4" fill="none"/>
<path d="M1091.5,744.36 V797.25" stroke="#1a1a1a" stroke-width="2.4" fill="none"/>
<path d="M769.9,797.25 H1092.5" stroke="#171717" stroke-width="2.4" fill="none"/>
<path d="M686.6,281 V647" stroke="#7e7e7e" stroke-width="3" fill="none"/>
<path d="M1178.3,280.2 V236" stroke="#858585" stroke-width="4.4" fill="none"/>
<path d="M1180.5,280.2 H682.3 V235.8 Q682.3,231.5 686.6,231.5 H1176 Q1180.5,231.5 1180.8,236" stroke="#151515" stroke-width="2.4" fill="none"/>
<line x1="686" y1="236.6" x2="1177" y2="236.6" stroke="#151515" stroke-width="2.2" stroke-dasharray="24 4.6" stroke-dashoffset="-7"/>
<line x1="689.2" y1="238" x2="689.2" y2="279" stroke="#888" stroke-width="3" stroke-dasharray="14 4"/>
<line x1="1168.8" y1="238" x2="1168.8" y2="279" stroke="#aaa" stroke-width="1.5" stroke-dasharray="9 3"/>
<path d="M700.5,231 V223.5 Q700.5,217.3 707,217.3 H1154.5 Q1161.6,217.3 1161.6,223.5 V231" stroke="#828282" stroke-width="4.8" fill="none"/>
<path d="M700.5,231.5 V222.5 M1161.8,231.5 V224" stroke="#151515" stroke-width="2" fill="none"/>
<path d="M705.2,230 V221 M1157,230 V221" stroke="#ccc" stroke-width="1.2" fill="none"/>
<line x1="708" y1="219.6" x2="1153" y2="219.6" stroke="#fff" stroke-width="1.4" stroke-dasharray="4 24" stroke-dashoffset="-8"/>
<path d="M747,219 V231 M751,219 V231 M1110.8,219 V231 M1114.8,219 V231" stroke="#777" stroke-width="1.2"/>
<line x1="800" y1="173.2" x2="1061.8" y2="173.2" stroke="#1a1a1a" stroke-width="2"/>
<path d="M802.5,173 V224.6 M1059.4,173 V224.6" stroke="#858585" stroke-width="5.2" fill="none"/>
<path d="M800.2,180 V222 M1057.1,180 V222" stroke="#fff" stroke-width="1" stroke-dasharray="2 16" fill="none"/>
<path d="M751,237 Q751.5,251.5 770,252.6 H786" stroke="#3a3a3a" stroke-width="1.6" fill="none" stroke-dasharray="7 1"/>
<path d="M755,237 Q755.5,248.4 770,249.2 H784" stroke="#aaa" stroke-width="1.1" fill="none" stroke-dasharray="5 1.5"/>
<path d="M768,254.6 Q776,256.5 786,254.6" stroke="#aaa" stroke-width="1.2" fill="none"/>
<path d="M801,238 L794,248" stroke="#777" stroke-width="1.3" fill="none" stroke-dasharray="2 1.5"/>
<path d="M1112,237 Q1111.5,251.5 1093,252.6 H1075.5" stroke="#3a3a3a" stroke-width="1.6" fill="none" stroke-dasharray="7 1"/>
<path d="M1108,237 Q1107.5,248.4 1093,249.2 H1078" stroke="#aaa" stroke-width="1.1" fill="none" stroke-dasharray="5 1.5"/>
<path d="M1077.5,254.6 Q1085,256.5 1094,254.6" stroke="#aaa" stroke-width="1.2" fill="none"/>
<path d="M1061.5,238 L1068,248" stroke="#777" stroke-width="1.3" fill="none" stroke-dasharray="2 1.5"/>
<path d="M782,250.3 L787,252 L782,253.7 Z" fill="#222"/>
<path d="M1080,250.3 L1075,252 L1080,253.7 Z" fill="#222"/>
<line x1="792" y1="251.2" x2="1071" y2="251.2" stroke="#999" stroke-width="1.4" stroke-dasharray="24 4.6" stroke-dashoffset="-3"/>
<line x1="792" y1="255.7" x2="1071" y2="255.7" stroke="#c8c8c8" stroke-width="1.4" stroke-dasharray="24 4.6" stroke-dashoffset="-3"/>
<circle cx="718.7" cy="260.3" r="9.2" stroke="#8a8a8a" stroke-width="1.8" fill="none"/>
<path d="M726.5,253.3 Q720.5,252.2 714.3,253.4 Q712,260.3 714.3,267.2 Q720.5,268.4 726.5,267.2" stroke="#0d0d0d" stroke-width="4.2" fill="none" stroke-linejoin="round"/>
<path d="M926.5,252.5 A9.5,9.5 0 0 0 926.5,268.5 M934.5,252.5 A9.5,9.5 0 0 1 934.5,268.5" stroke="#1a1a1a" stroke-width="1.9" fill="none"/>
<circle cx="1141.7" cy="260" r="8.4" fill="#6a6a6a" stroke="#3a3a3a" stroke-width="1.8"/>
<path d="M1144,254.5 L1147,257 M1138,264 L1141,266.5 M1145,264 L1147.5,262" stroke="#1a1a1a" stroke-width="2.2"/>
<!-- dimensions -->
<line x1="142.0" y1="39" x2="142.0" y2="230.5" stroke="#939393" stroke-width="2.4"/>
<line x1="642.25" y1="39" x2="642.25" y2="230.5" stroke="#b8b8b8" stroke-width="2.4"/>
<line x1="142" y1="56.9" x2="642" y2="56.9" stroke="#bcbcbc" stroke-width="1.8"/>
<line x1="41.5" y1="108.05" x2="229" y2="108.05" stroke="#9a9a9a" stroke-width="2.4"/>
<line x1="41.4" y1="797.35" x2="231" y2="797.35" stroke="#bdbdbd" stroke-width="2.4"/>
<line x1="59.45" y1="108" x2="59.45" y2="797" stroke="#a3a3a3" stroke-width="2.4"/>
<line x1="236.85" y1="798" x2="236.85" y2="895.2" stroke="#b8b8b8" stroke-width="2.4"/>
<line x1="547.45" y1="798" x2="547.45" y2="895.2" stroke="#8f8f8f" stroke-width="2.4"/>
<line x1="236.6" y1="879.75" x2="547.5" y2="879.75" stroke="#adadad" stroke-width="1.8"/>
<line x1="804.85" y1="37.3" x2="804.85" y2="172.5" stroke="#a6a6a6" stroke-width="2.4"/>
<line x1="1057.45" y1="37.3" x2="1057.45" y2="172.5" stroke="#aaaaaa" stroke-width="2.4"/>
<line x1="805" y1="54.65" x2="1057.5" y2="54.65" stroke="#5c5c5c" stroke-width="1.6"/>
<g fill="#434343">
<polygon points="142.3,55.0 167,50.6 167,60.1"/>
<polygon points="641,54.6 615,50.6 615,60.5"/>
<polygon points="59.4,108.3 53.3,132.8 65.5,132.8"/>
<polygon points="59.4,797 53.8,771.7 64.8,771.7"/>
<polygon points="236.8,879.3 261.6,873.9 261.6,884.5"/>
<polygon points="547.3,879.5 520.5,874.3 520.5,884.7"/>
<polygon points="805.3,54.5 829.7,48.8 829.7,59.5"/>
<polygon points="1057.3,54.5 1031,48.8 1031,59.8"/>
</g>
<g fill="#2a2a78" font-size="40.2" stroke="#fff" stroke-width="0.6">
<text x="392.1" y="46.5" text-anchor="middle">B</text>
<text x="391.8" y="871.0" text-anchor="middle">C</text>
<text x="931.3" y="44.8" text-anchor="middle">D</text>
<text x="0" y="0" text-anchor="middle" transform="translate(51.0,451.2) rotate(-90)">A</text>
</g>
<g fill="#1e1e1e" font-size="44.2" stroke="#fff" stroke-width="0.9">
<text x="0" y="964.6" text-anchor="middle" transform="translate(400.4,0) scale(0.956,1)">Non-Rebated</text>
<text x="0" y="916.8" text-anchor="middle" transform="translate(933.2,0) scale(0.950,1)">Rebated</text>
<text x="0" y="968.3" text-anchor="middle" transform="translate(932.2,0) scale(0.971,1)">Airbox Lid</text>
</g>
</svg>
</body>
</html>
